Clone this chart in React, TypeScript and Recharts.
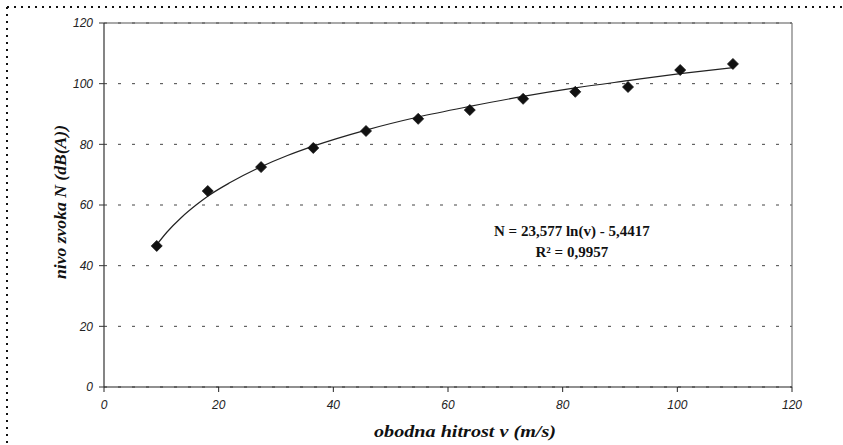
import React from "react";
import {
  ComposedChart,
  Line,
  Scatter,
  XAxis,
  YAxis,
  CartesianGrid,
  ReferenceLine,
  ReferenceDot,
} from "recharts";

// measured points: peripheral speed v (m/s) vs noise level N (dB(A))
const speeds = [9.2, 18.1, 27.4, 36.5, 45.7, 54.8, 63.8, 73.1, 82.2, 91.4, 100.5, 109.7];
const levels = [46.5, 64.6, 72.5, 78.8, 84.4, 88.4, 91.3, 95.0, 97.3, 98.9, 104.5, 106.5];

// log trendline
const trendSpeeds = [9.2, 11, 13.5, 16, 18.1, 22, 27.4, 32, 36.5, 45.7, 54.8, 63.8, 73.1, 82.2, 91.4, 100.5, 109.7];
const trendLevels = [46.9, 51.1, 55.9, 59.9, 62.9, 67.4, 72.6, 76.3, 79.4, 84.7, 89.0, 92.5, 95.8, 98.6, 101.0, 103.3, 105.3];

const xTicks = [0, 20, 40, 60, 80, 100, 120];
const yTicks = [0, 20, 40, 60, 80, 100, 120];

const xTitle = "obodna hitrost v (m/s)";
const yTitle = "nivo zvoka N (dB(A))";
const equation = "N = 23,577 ln(v) - 5,4417";
const rSquared = "R² = 0,9957";

const points = speeds.map((v, i) => ({ v, n: levels[i] }));
const trend = trendSpeeds.map((v, i) => ({ v, n: trendLevels[i] }));

const serif = "Liberation Serif, Times New Roman, serif";

const tickStyle = {
  fontSize: 12,
  fontStyle: "italic",
  fill: "#222",
  fontFamily: "Liberation Sans, Arial, sans-serif",
};

function Diamond(props: any) {
  const { cx, cy } = props;
  if (cx == null || cy == null) return null;
  const r = 5.5;
  return (
    <path
      d={`M${cx},${cy - r}L${cx + r},${cy}L${cx},${cy + r}L${cx - r},${cy}Z`}
      fill="#111"
      stroke="#111"
      strokeWidth={0.8}
    />
  );
}

function EquationLabel(props: any) {
  const { viewBox } = props;
  if (!viewBox) return null;
  const cx = viewBox.x + (viewBox.width || 0) / 2;
  const cy = viewBox.y + (viewBox.height || 0) / 2;
  return (
    <text
      x={cx}
      y={cy}
      textAnchor="middle"
      fontFamily={serif}
      fontWeight="bold"
      fontSize={15}
      fill="#111"
    >
      <tspan x={cx} dy={-6}>{equation}</tspan>
      <tspan x={cx} dy={21}>{rSquared}</tspan>
    </text>
  );
}

// scanned original is stretched along the text, so fix the run length
function XTitle(props: any) {
  const { viewBox } = props;
  if (!viewBox) return null;
  const x = viewBox.x + viewBox.width / 2 + 17;
  const y = viewBox.y + 50;
  return (
    <text
      x={x}
      y={y}
      textAnchor="middle"
      textLength={182}
      lengthAdjust="spacingAndGlyphs"
      fontFamily={serif}
      fontWeight="bold"
      fontStyle="italic"
      fontSize={16}
      fill="#111"
    >
      {xTitle}
    </text>
  );
}

function YTitle(props: any) {
  const { viewBox } = props;
  if (!viewBox) return null;
  const x = viewBox.x + 66;
  const y = viewBox.y + viewBox.height / 2 - 3;
  return (
    <text
      x={x}
      y={y}
      transform={`rotate(-90 ${x} ${y})`}
      textAnchor="middle"
      textLength={154}
      lengthAdjust="spacingAndGlyphs"
      fontFamily={serif}
      fontWeight="bold"
      fontStyle="italic"
      fontSize={16}
      fill="#111"
    >
      {yTitle}
    </text>
  );
}

export default function App() {
  return (
    <div style={{ position: "absolute", left: 0, top: 0, width: 843, height: 445, background: "#fff" }}>
      <ComposedChart
        width={843}
        height={445}
        margin={{ top: 23, right: 51, left: 0, bottom: 0 }}
      >
        <CartesianGrid
          horizontal
          vertical={false}
          stroke="#444"
          strokeDasharray="3 11"
        />
        <XAxis
          type="number"
          dataKey="v"
          domain={[0, 120]}
          ticks={xTicks}
          interval={0}
          allowDataOverflow
          height={58}
          tick={tickStyle}
          tickSize={5}
          tickMargin={8}
          axisLine={{ stroke: "#222", strokeWidth: 1.2 }}
          tickLine={{ stroke: "#222" }}
          label={<XTitle />}
        />
        <YAxis
          type="number"
          dataKey="n"
          domain={[0, 120]}
          ticks={yTicks}
          interval={0}
          allowDataOverflow
          width={104}
          tick={tickStyle}
          tickSize={5}
          tickMargin={6}
          axisLine={{ stroke: "#333", strokeWidth: 1.2 }}
          tickLine={{ stroke: "#333" }}
          label={<YTitle />}
        />
        <ReferenceLine y={120} stroke="#555" strokeWidth={1.2} />
        <ReferenceLine x={120} stroke="#777" strokeWidth={1.2} />
        <Line
          data={trend}
          dataKey="n"
          type="monotone"
          stroke="#222"
          strokeWidth={1.2}
          dot={false}
          activeDot={false}
          isAnimationActive={false}
        />
        <Scatter
          data={points}
          dataKey="n"
          shape={<Diamond />}
          isAnimationActive={false}
        />
        <ReferenceDot
          x={81.6}
          y={47.8}
          r={0}
          fill="none"
          stroke="none"
          label={<EquationLabel />}
        />
      </ComposedChart>
      <svg
        width={843}
        height={445}
        style={{ position: "absolute", left: 0, top: 0, pointerEvents: "none" }}
      >
        <line x1={7} y1={7} x2={843} y2={7} stroke="#111" strokeWidth={2} strokeDasharray="2 5" />
        <line x1={7} y1={7} x2={7} y2={445} stroke="#111" strokeWidth={2} strokeDasharray="2 5" />
      </svg>
    </div>
  );
}
